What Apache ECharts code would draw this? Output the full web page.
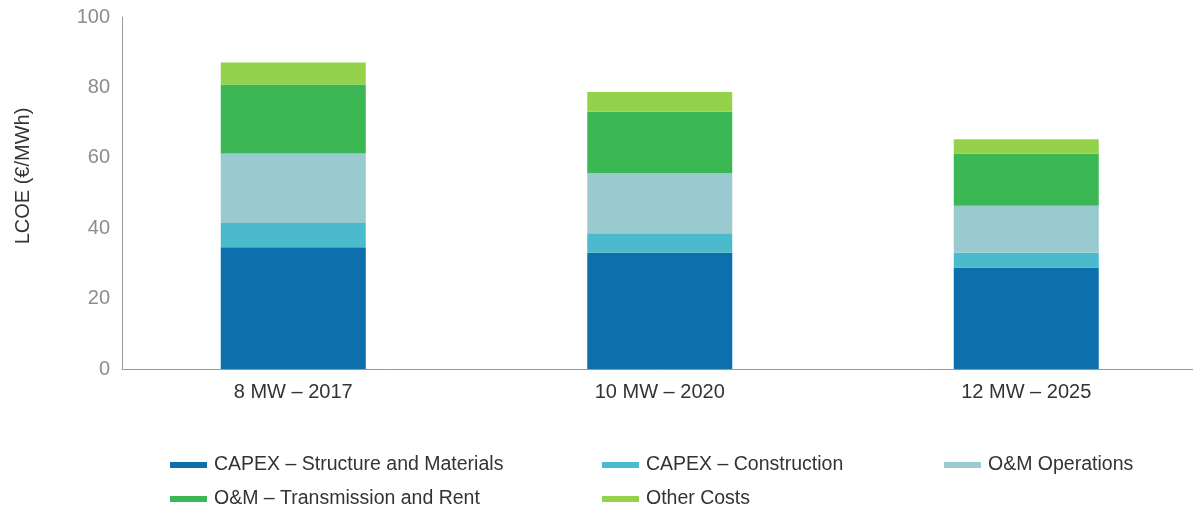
<!DOCTYPE html>
<html>
<head>
<meta charset="utf-8">
<script src="https://cdn.jsdelivr.net/npm/echarts@6/dist/echarts.min.js"></script>
<style>
  html, body { margin: 0; padding: 0; background: #fff; }
  #main { width: 1193px; height: 510px; }
</style>
</head>
<body>
<div id="main"></div>
<script>
// 数据
var categories = ['8 MW \u2013 2017', '10 MW \u2013 2020', '12 MW \u2013 2025'];
var capexStructure = [34.6, 33.0, 28.8];
var capexConstruction = [6.9, 5.6, 4.2];
var omOperations = [19.7, 17.0, 13.4];
var omTransmission = [19.6, 17.5, 14.8];
var otherCosts = [6.3, 5.6, 4.1];
var yTicks = [0, 20, 40, 60, 80, 100];

var font = 'Liberation Sans, Arial, sans-serif';
var myChart = echarts.init(document.getElementById('main'));

function barSeries(name, data, color) {
    return {
        name: name,
        type: 'bar',
        stack: 'total',
        xAxisIndex: 0,
        yAxisIndex: 0,
        barWidth: 145,
        itemStyle: { color: color },
        emphasis: { disabled: true },
        data: data
    };
}

function legendAt(left, names) {
    return {
        left: left,
        top: 455,
        padding: 0,
        orient: 'vertical',
        icon: 'rect',
        itemWidth: 37,
        itemHeight: 6,
        itemGap: 14,
        selectedMode: false,
        data: names,
        textStyle: { fontFamily: font, fontSize: 19.5, color: '#333', lineHeight: 20, padding: [0, 0, 0, 2] }
    };
}

var option = {
    animation: false,
    legend: [
        legendAt(170, ['CAPEX \u2013 Structure and Materials', 'O&M \u2013 Transmission and Rent']),
        legendAt(602, ['CAPEX \u2013 Construction', 'Other Costs']),
        legendAt(944, ['O&M Operations'])
    ],
    grid: [
        // bars grid (category bands)
        { left: 110, right: -16.5, top: 17, bottom: 141, outerBoundsMode: 'none' },
        // axes grid
        { left: 122, right: 0, top: 17, bottom: 141, outerBoundsMode: 'none' }
    ],
    xAxis: [
        {
            gridIndex: 0,
            type: 'category',
            data: categories,
            axisLine: { show: false },
            axisTick: { show: false },
            axisLabel: { fontFamily: font, fontSize: 20, color: '#333', margin: 13 }
        },
        {
            gridIndex: 1,
            type: 'value',
            min: 0,
            max: 1,
            axisLine: { show: true, lineStyle: { color: '#999', width: 1 } },
            axisTick: { show: false },
            axisLabel: { show: false },
            splitLine: { show: false }
        }
    ],
    yAxis: [
        {
            gridIndex: 0,
            type: 'value',
            min: 0,
            max: 100,
            show: false
        },
        {
            gridIndex: 1,
            type: 'value',
            min: 0,
            max: 100,
            interval: 20,
            name: 'LCOE (\u20ac/MWh)',
            nameLocation: 'middle',
            nameGap: 89,
            nameTextStyle: { fontFamily: font, fontSize: 20, color: '#333', padding: [0, 0, 0, 34] },
            axisLine: { show: true, lineStyle: { color: '#999', width: 1 } },
            axisTick: { show: false },
            splitLine: { show: false },
            axisLabel: {
                fontFamily: font,
                fontSize: 20,
                color: '#8c8c8c',
                margin: 12,
                formatter: function (v) { return yTicks.indexOf(v) >= 0 ? String(v) : ''; }
            }
        }
    ],
    series: [
        barSeries('CAPEX \u2013 Structure and Materials', capexStructure, '#0d70ad'),
        barSeries('CAPEX \u2013 Construction', capexConstruction, '#4bbacd'),
        barSeries('O&M Operations', omOperations, '#99cacf'),
        barSeries('O&M \u2013 Transmission and Rent', omTransmission, '#3bb854'),
        barSeries('Other Costs', otherCosts, '#94d24b')
    ]
};

myChart.setOption(option);
</script>
</body>
</html>
